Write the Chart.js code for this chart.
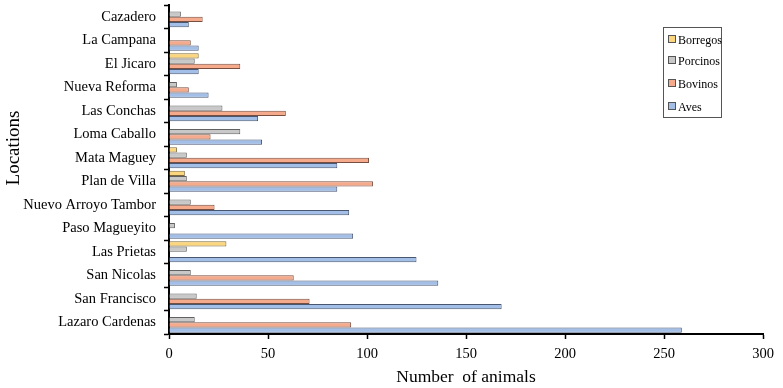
<!DOCTYPE html>
<html>
<head>
<meta charset="utf-8">
<script src="https://cdn.jsdelivr.net/npm/chart.js@4"></script>
<style>
    body { margin: 0; background: #fff; }
    #wrap { position: relative; width: 783px; height: 388px; }
    #legend {
        position: absolute; left: 663px; top: 27px; width: 57px; height: 89px;
        border: 1px solid #555; background: #fff;
        font-family: "Liberation Serif", serif; font-size: 12px; color: #000;
    }
    #legend div { position: absolute; left: 4px; height: 14px; line-height: 14px; white-space: nowrap; }
    #legend span { display: inline-block; width: 6px; height: 6px; border: 1px solid #555; margin-right: 2px; vertical-align: 1px; }
</style>
</head>
<body>
<div id="wrap">
    <canvas id="chart" width="783" height="388"></canvas>
    <div id="legend"></div>
</div>
<script>
'use strict';

// Data
const locations = ['Cazadero', 'La Campana', 'El Jicaro', 'Nueva Reforma', 'Las Conchas', 'Loma Caballo',
    'Mata Maguey', 'Plan de Villa', 'Nuevo Arroyo Tambor', 'Paso Magueyito', 'Las Prietas',
    'San Nicolas', 'San Francisco', 'Lazaro Cardenas'];
const borregos = [0, 0, 15, 0, 0, 0, 4, 8, 0, 0, 29, 0, 0, 0];
const porcinos = [6, 0, 13, 4, 27, 36, 9, 9, 11, 3, 9, 11, 14, 13];
const bovinos = [17, 11, 36, 10, 59, 21, 101, 103, 23, 0, 0, 63, 71, 92];
const aves = [10, 15, 15, 20, 45, 47, 85, 85, 91, 93, 125, 136, 168, 259];
const xTicks = [0, 50, 100, 150, 200, 250, 300];

const serif = '"Liberation Serif", "Times New Roman", serif';

const series = [
    { label: 'Borregos', data: borregos, color: '#fcd67e', border: '#7d6a3c' },
    { label: 'Porcinos', data: porcinos, color: '#c8c8c8', border: '#616161' },
    { label: 'Bovinos', data: bovinos, color: '#f5aa8c', border: '#784e40' },
    { label: 'Aves', data: aves, color: '#a3bfe8', border: '#485670' }
];

// Y axis title, placed like the original (a bit above centre)
const yTitlePlugin = {
    id: 'yTitle',
    afterDraw(chart) {
        let c = chart.ctx;
        c.save();
        c.translate(14, 148);
        c.rotate(-Math.PI / 2);
        c.font = '19px ' + serif;
        c.fillStyle = '#000';
        c.textAlign = 'center';
        c.textBaseline = 'middle';
        c.fillText('Locations', 0, 0);
        c.restore();
    }
};

const ctx = document.getElementById('chart').getContext('2d');
const chart = new Chart(ctx, {
    type: 'bar',
    data: {
        labels: locations,
        datasets: series.map(s => ({
            label: s.label,
            data: s.data,
            backgroundColor: s.color,
            borderColor: s.border,
            borderWidth: 1,
            categoryPercentage: 0.9,
            barPercentage: 1
        }))
    },
    plugins: [yTitlePlugin],
    options: {
        indexAxis: 'y',
        responsive: false,
        animation: false,
        layout: { padding: { top: 5, right: 20, left: 0, bottom: 0 } },
        plugins: {
            legend: { display: false },
            tooltip: { enabled: false }
        },
        scales: {
            x: {
                min: 0,
                max: 300,
                afterBuildTicks: (scale) => { scale.ticks = xTicks.map(v => ({ value: v })); },
                afterFit: (scale) => { scale.height = 54; },
                grid: { drawOnChartArea: false, tickLength: 5, color: '#000', tickWidth: 1.5 },
                border: { color: '#000', width: 2 },
                ticks: { color: '#000', font: { family: serif, size: 14.5 }, padding: 6 },
                title: { display: true, text: 'Number  of animals', color: '#000', font: { family: serif, size: 17.5 }, padding: { top: 0, bottom: 0 } }
            },
            y: {
                afterFit: (scale) => {
                    scale.width = 169;
                    scale.paddingTop = 0;
                    scale.paddingBottom = 0;
                },
                grid: { drawOnChartArea: false, tickLength: 5, color: '#000', tickWidth: 1.5, offset: true },
                border: { color: '#000', width: 2 },
                ticks: { color: '#000', font: { family: serif, size: 14.5 }, padding: 8, autoSkip: false }
            }
        }
    }
});

// Legend inside plot area
const legendBox = document.getElementById('legend');
const tops = [5, 26, 49, 72];
series.forEach((s, i) => {
    let item = document.createElement('div');
    item.style.top = tops[i] + 'px';
    let sw = document.createElement('span');
    sw.style.background = s.color;
    item.appendChild(sw);
    item.appendChild(document.createTextNode(s.label));
    legendBox.appendChild(item);
});
</script>
</body>
</html>
